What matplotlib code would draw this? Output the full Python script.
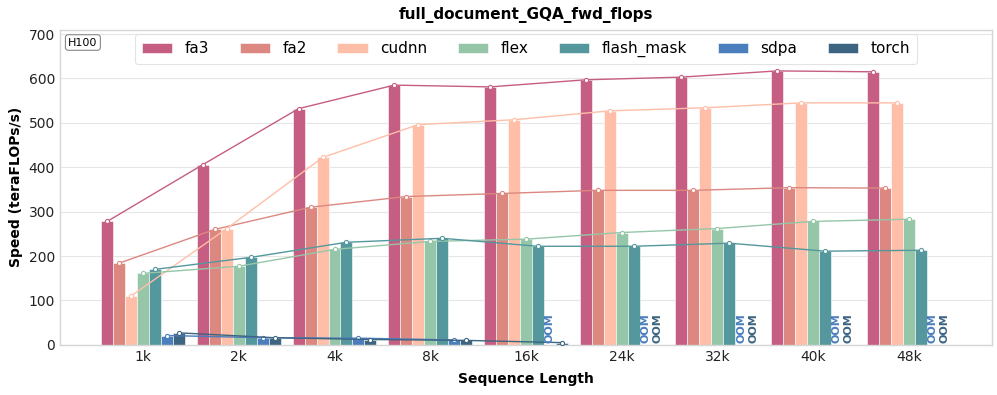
import numpy as np
import matplotlib
matplotlib.use("Agg")
import matplotlib.pyplot as plt

seq_lens = ["1k", "2k", "4k", "8k", "16k", "24k", "32k", "40k", "48k"]
methods = ["fa3", "fa2", "cudnn", "flex", "flash_mask", "sdpa", "torch"]
colors = ["#C65D82", "#DC8880", "#FFBEA8", "#96C6A8", "#54989E", "#4A7EBD", "#3D6480"]

# None means OOM
fa3 = [278, 406, 532, 585, 581, 597, 603, 617, 615]
fa2 = [184, 260, 310, 334, 341, 348, 348, 354, 353]
cudnn = [110, 262, 422, 496, 507, 527, 534, 545, 545]
flex = [161, 177, 215, 233, 238, 253, 262, 278, 283]
flash_mask = [170, 197, 231, 240, 222, 222, 229, 211, 213]
sdpa = [21, 16, 15, 11, None, None, None, None, None]
torch = [27, 16, 12, 10, 5, None, None, None, None]

data = [fa3, fa2, cudnn, flex, flash_mask, sdpa, torch]

fig = plt.figure(figsize=(9.97, 3.95), dpi=100)
ax = fig.add_axes([0.060, 0.127, 0.935, 0.798])

x = np.arange(len(seq_lens))
w = 0.125
for i, (name, vals, c) in enumerate(zip(methods, data, colors)):
    xs = x + (i - 3) * w
    ok = [j for j, v in enumerate(vals) if v is not None]
    oom = [j for j, v in enumerate(vals) if v is None]
    ax.bar(xs[ok], [vals[j] for j in ok], width=w, color=c, edgecolor="white",
           linewidth=0.4, label=name, zorder=2)
    ax.plot(xs[ok], [vals[j] for j in ok], color=c, linewidth=1.0, marker="o",
            markersize=3, markerfacecolor="white", markeredgecolor=c,
            markeredgewidth=0.8, zorder=3)
    for j in oom:
        ax.text(xs[j], 4, "OOM", rotation=90, ha="center", va="bottom",
                fontsize=8, fontweight="bold", color=c, zorder=4)

ax.set_xlim(-0.87, 8.87)
ax.set_ylim(0, 710)
ax.set_xticks(x)
ax.set_xticklabels(seq_lens)
ax.set_yticks(range(0, 701, 100))
ax.tick_params(axis="both", length=0, labelsize=10, colors="#222222")
ax.grid(axis="y", color="#e6e6e6", linewidth=0.8, zorder=0)
ax.set_axisbelow(True)
for s in ax.spines.values():
    s.set_color("#d6d6d6")
    s.set_linewidth(1.0)

ax.set_title("full_document_GQA_fwd_flops", fontsize=11, fontweight="bold", pad=8)
ax.set_xlabel("Sequence Length", fontsize=10, fontweight="bold", labelpad=6)
ax.set_ylabel("Speed (teraFLOPs/s)", fontsize=10, fontweight="bold")

leg = ax.legend(loc="upper center", ncol=7, fontsize=11, frameon=True,
                handlelength=2.0, columnspacing=2.0, borderpad=0.45,
                bbox_to_anchor=(0.5, 0.985), borderaxespad=0.0)
leg.get_frame().set_edgecolor("#dddddd")
leg.get_frame().set_linewidth(0.8)

ax.text(0.009, 0.975, "H100", transform=ax.transAxes, ha="left", va="top",
        fontsize=8, bbox=dict(boxstyle="round,pad=0.25", facecolor="white",
                              edgecolor="#888888", linewidth=0.8))

fig.savefig("out.png", dpi=100)
